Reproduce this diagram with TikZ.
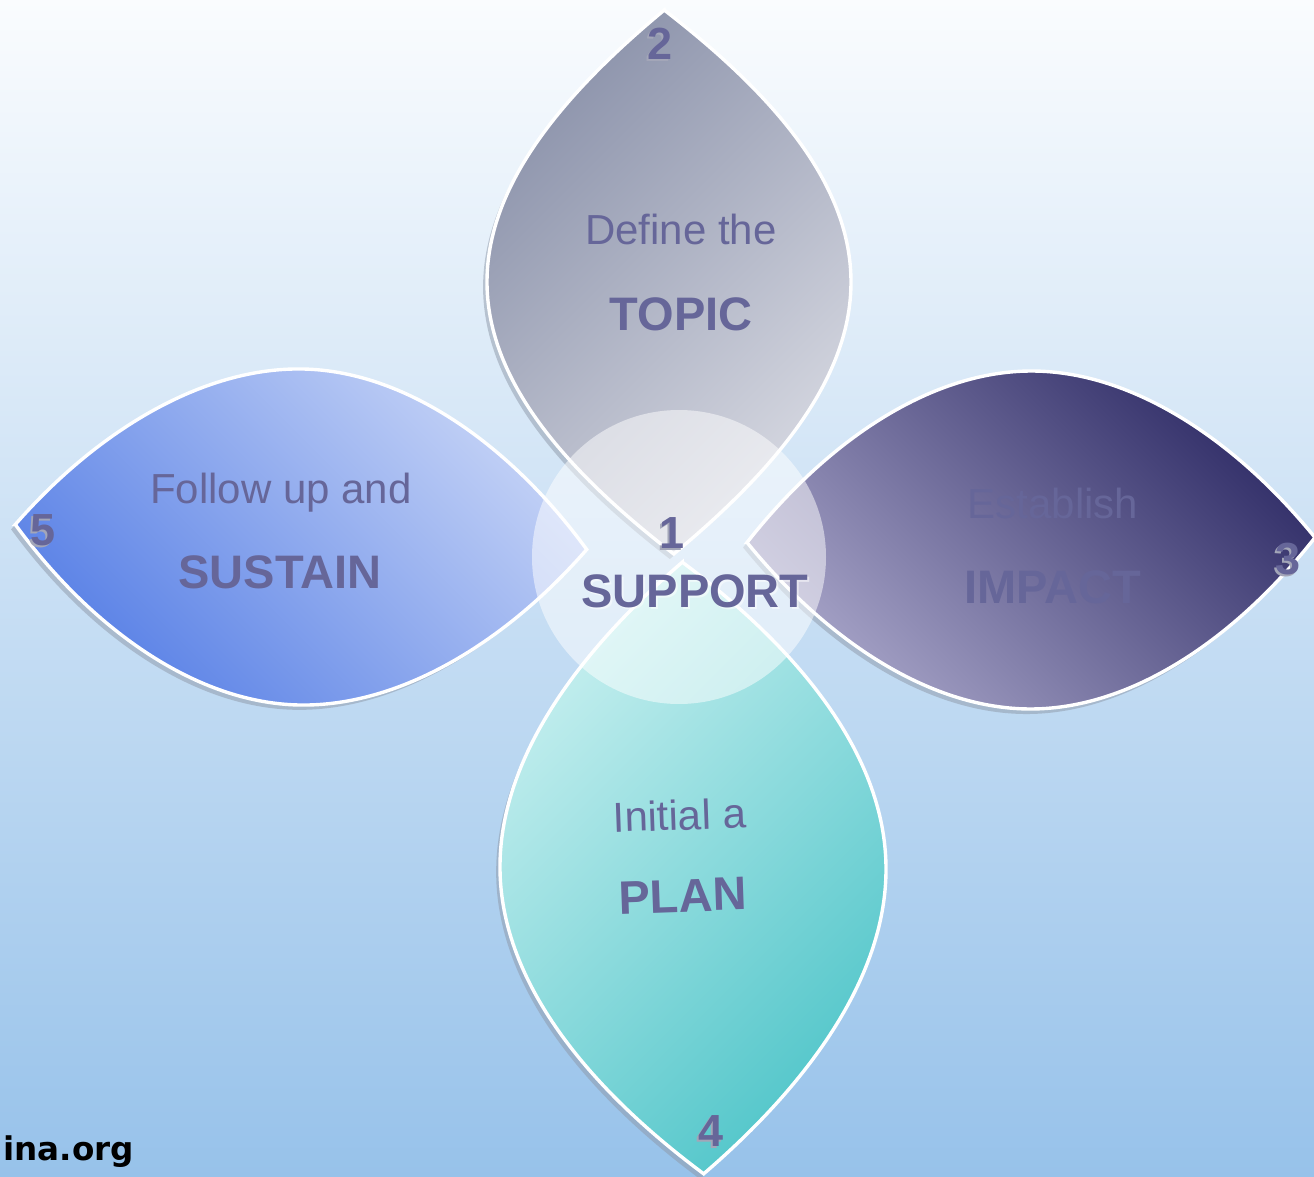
\documentclass[tikz,border=0pt]{standalone}
\usepackage{fontspec}
\setmainfont{Liberation Sans}
\newfontfamily\orgfont{DejaVu Sans}
\definecolor{bgtop}{HTML}{FAFCFE}
\definecolor{bgbot}{HTML}{97C2EA}
\definecolor{topA}{HTML}{8C93AB}
\definecolor{topB}{HTML}{D6D8E1}
\definecolor{rightA}{HTML}{312E68}
\definecolor{rightB}{HTML}{A6A3C7}
\definecolor{leftA}{HTML}{C5D3F6}
\definecolor{leftB}{HTML}{5880E6}
\definecolor{botA}{HTML}{C6EFEF}
\definecolor{botB}{HTML}{52C6CA}
\definecolor{textc}{HTML}{666699}
\definecolor{shadowc}{HTML}{8E98A8}
\definecolor{numshade}{HTML}{A3A6B8}
% leaf outlines: half length #1, half width #2 (pixel units, y grows downward)
\newcommand\leafV[2]{(0,-#1) .. controls (-0.6*#2,-#1+0.48*#2) and (-#2,-0.35*#1) .. (-#2,0) .. controls (-#2,0.35*#1) and (-0.6*#2,#1-0.48*#2) .. (0,#1) .. controls (0.6*#2,#1-0.48*#2) and (#2,0.35*#1) .. (#2,0) .. controls (#2,-0.35*#1) and (0.6*#2,-#1+0.48*#2) .. cycle}
\newcommand\leafH[2]{(-#1,0) .. controls (-#1+0.48*#2,-0.6*#2) and (-0.35*#1,-#2) .. (0,-#2) .. controls (0.35*#1,-#2) and (#1-0.48*#2,-0.6*#2) .. (#1,0) .. controls (#1-0.48*#2,0.6*#2) and (0.35*#1,#2) .. (0,#2) .. controls (-0.35*#1,#2) and (-#1+0.48*#2,0.6*#2) .. cycle}
\begin{document}
\begin{tikzpicture}[x=0.5pt,y=-0.5pt,
  leafshadow/.style={fill=shadowc, opacity=0.5, xshift=-2pt, yshift=-2.5pt},
  leafedge/.style={draw=white, line width=1.7pt},
  reg/.style={text=textc, font=\fontsize{21}{25}\selectfont, anchor=base, inner sep=0pt},
  bld/.style={text=textc, font=\bfseries\fontsize{23.5}{28}\selectfont, anchor=base, inner sep=0pt},
  num/.style={text=textc, font=\bfseries\fontsize{22.5}{27}\selectfont, anchor=base, inner sep=0pt},
  numsh/.style={num, text=numshade},
  org/.style={text=black, font=\orgfont\bfseries\fontsize{16.3}{19}\selectfont, anchor=base west, inner sep=0pt}]
\useasboundingbox (0,0) rectangle (1314,1177);
\clip (0,0) rectangle (1314,1177);
% background
\shade[top color=bgtop, bottom color=bgbot] (0,0) rectangle (1314,1177);

% leaf 2 (top)
\begin{scope}[shift={(669,282)}, rotate=1]
  \fill[leafshadow] \leafV{272}{182};
  \shadedraw[leafedge, top color=topA, bottom color=topB, shading angle=45] \leafV{272}{182};
\end{scope}
% leaf 5 (left)
\begin{scope}[shift={(301,537)}, rotate=-2.5]
  \fill[leafshadow] \leafH{286}{168};
  \shadedraw[leafedge, top color=leftA, bottom color=leftB, shading angle=-45] \leafH{286}{168};
\end{scope}
% leaf 3 (right)
\begin{scope}[shift={(1031,540)}, rotate=0.5]
  \fill[leafshadow] \leafH{284}{169};
  \shadedraw[leafedge, top color=rightA, bottom color=rightB, shading angle=-45] \leafH{284}{169};
\end{scope}
% leaf 4 (bottom)
\begin{scope}[shift={(693,868)}, rotate=2]
  \fill[leafshadow] \leafV{306}{193};
  \shadedraw[leafedge, top color=botA, bottom color=botB, shading angle=45] \leafV{306}{193};
\end{scope}

% translucent centre disc
\fill[white, opacity=0.5] (679,557) circle[radius=147];

% texts
\node[reg] (t2a) at (681,245) {Define the};
\node[bld] (t2b) at (681,330) {TOPIC};
\node[numsh] (n2s) at (658,62) {2};
\node[num] (n2) at (660,60) {2};

\node[numsh] (n1s) at (670,550) {1};
\node[num] (n1) at (672,548) {1};
\node[bld, text=white, opacity=0.5] (t1s) at (697,609) {SUPPORT};
\node[bld] (t1) at (695,607) {SUPPORT};

\node[reg] (t5a) at (281,503) {Follow up and};
\node[bld] (t5b) at (280,588) {SUSTAIN};
\node[numsh] (n5s) at (41,547) {5};
\node[num] (n5) at (43,545) {5};

\node[reg] (t3a) at (1053,518) {Establish};
\node[bld] (t3b) at (1053,603) {IMPACT};
\node[numsh] (n3s) at (1286,576) {3};
\node[num] (n3) at (1288,574) {3};

\node[reg, rotate=2] (t4a) at (680,830) {Initial a};
\node[bld, rotate=2] (t4b) at (683,912) {PLAN};
\node[numsh] (n4s) at (709,1148) {4};
\node[num] (n4) at (711,1146) {4};

\node[org] (org) at (3,1160) {ina.org};
\end{tikzpicture}
\end{document}
